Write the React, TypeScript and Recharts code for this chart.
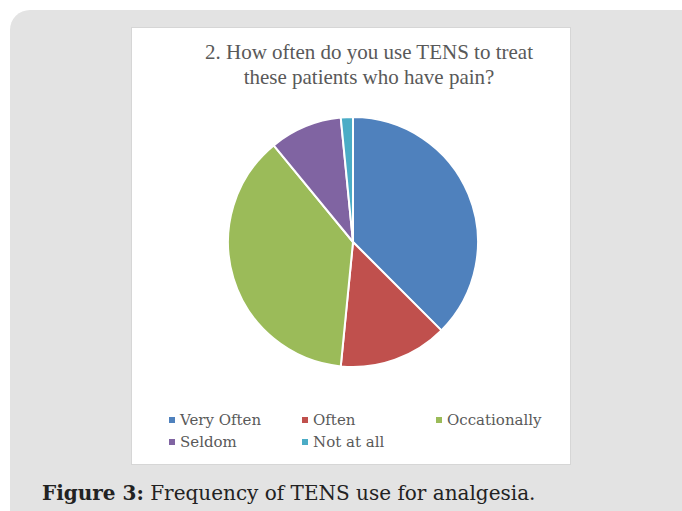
import React from 'react';
import { PieChart, Pie, Cell, Legend } from 'recharts';

const categories = ['Very Often', 'Often', 'Occationally', 'Seldom', 'Not at all'];
const responses = [24, 9, 24, 6, 1];
const colors = ['#4F81BD', '#C0504D', '#9BBB59', '#8064A2', '#4BACC6'];

const data = categories.map((name, i) => ({ name, value: responses[i] }));

const serif = '"Liberation Serif", "DejaVu Serif", serif';
const slab = '"DejaVu Serif", serif';

const LegendGrid = () => (
  <div style={{ display: 'grid', gridTemplateColumns: '133px 134px 120px', rowGap: 2, fontFamily: slab, fontSize: 15, color: '#595959' }}>
    {data.map((d, i) => (
      <div key={d.name} style={{ display: 'flex', alignItems: 'center', height: 20 }}>
        <span style={{ width: 6, height: 6, background: colors[i], marginRight: 5, display: 'inline-block' }} />
        <span>{d.name}</span>
      </div>
    ))}
  </div>
);

export default function App() {
  return (
    <div style={{ position: 'absolute', left: 0, top: 0, width: 682, height: 511, overflow: 'hidden', background: '#fff' }}>
      <div style={{ position: 'absolute', left: 10, top: 10, width: 690, height: 520, borderRadius: 20, background: '#e3e3e3' }} />
      <div style={{ position: 'absolute', left: 131, top: 27, width: 438, height: 436, background: '#fff', border: '1px solid #d6d6d6' }}>
        <div style={{ position: 'absolute', left: 17, top: 12, width: 440, textAlign: 'center', fontFamily: serif, fontSize: 21, lineHeight: '25px', color: '#595959' }}>
          <div>2. How often do you use TENS to treat</div>
          <div>these patients who have pain?</div>
        </div>
        <PieChart width={438} height={436} margin={{ top: 0, right: 0, bottom: 0, left: 0 }}>
          <Pie
            data={data}
            dataKey="value"
            nameKey="name"
            cx={221}
            cy={214}
            outerRadius={125}
            startAngle={90}
            endAngle={-270}
            stroke="#fff"
            strokeWidth={2}
            isAnimationActive={false}
          >
            {data.map((d, i) => (
              <Cell key={d.name} fill={colors[i]} />
            ))}
          </Pie>
          <Legend content={<LegendGrid />} wrapperStyle={{ position: 'absolute', left: 37, top: 382, width: 400 }} />
        </PieChart>
      </div>
      <div style={{ position: 'absolute', left: 42, top: 481, fontFamily: slab, fontSize: 20, color: '#222', whiteSpace: 'nowrap' }}>
        <b>Figure 3:</b> Frequency of TENS use for analgesia.
      </div>
    </div>
  );
}
